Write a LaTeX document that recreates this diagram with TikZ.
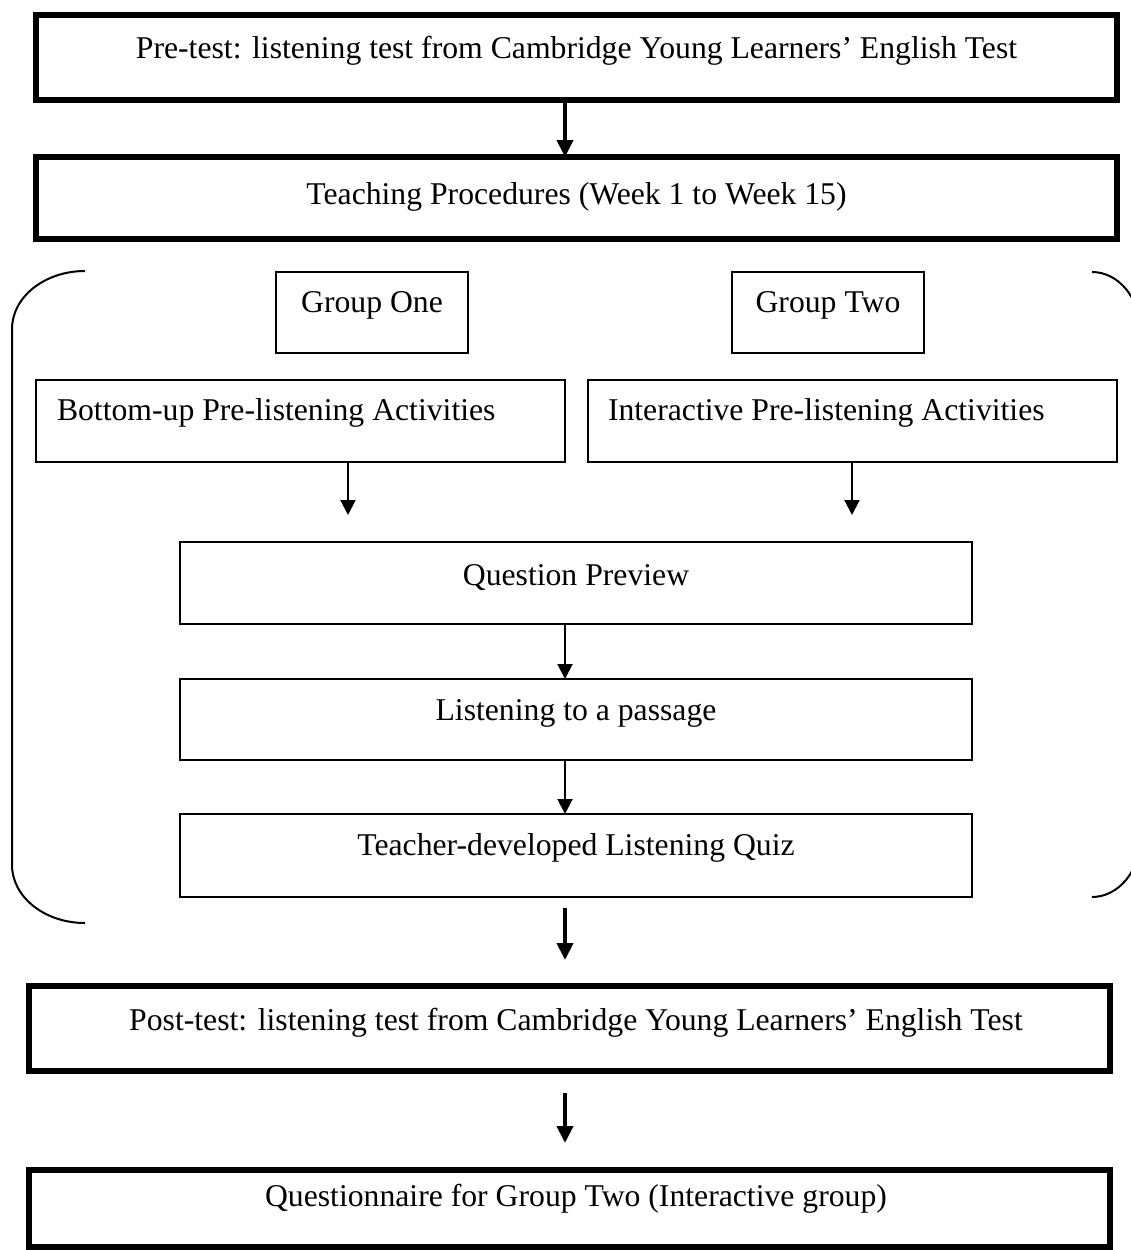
\documentclass[tikz,border=0pt]{standalone}
\usepackage{fontspec}
\setmainfont{Liberation Serif}
\usetikzlibrary{arrows.meta}
\begin{document}
\begin{tikzpicture}[x=1pt,y=-1pt,
  base/.style={draw, anchor=north west, inner sep=0pt, outer sep=0pt,
    font=\fontsize{31.7}{38}\selectfont},
  thickbox/.style={base, line width=6pt},
  thinbox/.style={base, line width=2pt},
  thinarrow/.style={line width=2pt, -{Triangle[width=15pt,length=15pt]}},
  thickarrow/.style={line width=4pt, -{Triangle[width=16pt,length=17pt]}},
  bracket/.style={line width=2pt}]
\clip (0,0) rectangle (1131,1250);
\coordinate (ax) at (565,0);
% main boxes
\node[thickbox, minimum width=1081pt, text height=43pt, text depth=42pt] (pre) at (36,15)
  {Pre-test: listening test from Cambridge Young Learners’ English Test};
\node[thickbox, minimum width=1081pt, text height=47pt, text depth=35pt] (proc) at (36,157)
  {Teaching Procedures (Week 1 to Week 15)};
% groups
\node[thinbox, minimum width=192pt, text height=40pt, text depth=41pt] (g1) at (276,272) {Group One};
\node[thinbox, minimum width=192pt, text height=40pt, text depth=41pt] (g2) at (732,272) {Group Two};
\node[thinbox, inner xsep=21pt, text width=487pt, align=flush left, text height=40pt, text depth=42pt] (bu) at (36,380)
  {Bottom-up Pre-listening Activities};
\node[thinbox, inner xsep=20pt, text width=489pt, align=flush left, text height=40pt, text depth=42pt] (ia) at (588,380)
  {Interactive Pre-listening Activities};
\node[thinbox, minimum width=792pt, text height=43pt, text depth=39pt] (qp) at (180,542) {Question Preview};
\node[thinbox, minimum width=792pt, text height=41pt, text depth=40pt] (lp) at (180,679) {Listening to a passage};
\node[thinbox, minimum width=792pt, text height=41pt, text depth=42pt] (tq) at (180,814) {Teacher-developed Listening Quiz};
% final boxes
\node[thickbox, text width=1081pt, align=flush center, text height=44pt, text depth=41pt] (post) at (29,986)
  {\hspace*{13pt}Post-test: listening test from Cambridge Young Learners’ English Test};
\node[thickbox, text width=1081pt, align=flush center, text height=36pt, text depth=41pt] (quest) at (29,1170)
  {\hspace*{13pt}Questionnaire for Group Two (Interactive group)};
% connectors
\draw[thickarrow] (pre.south -| ax) -- (proc.north -| ax);
\coordinate (bue) at (348,515);
\coordinate (iae) at (852,515);
\draw[thinarrow] (bu.south -| bue) -- (bue);
\draw[thinarrow] (ia.south -| iae) -- (iae);
\draw[thinarrow] (qp.south -| ax) -- (lp.north -| ax);
\draw[thinarrow] (lp.south -| ax) -- (tq.north -| ax);
\coordinate (a2s) at (565,908);
\coordinate (a2e) at (565,960);
\coordinate (a3s) at (565,1093);
\coordinate (a3e) at (565,1143);
\draw[thickarrow] (a2s) -- (a2e);
\draw[thickarrow] (a3s) -- (a3e);
% brackets
\draw[bracket] (85,271) .. controls (44.7,271) and (12,297) .. (12,329)
  -- (12,865) .. controls (12,897) and (44.7,923) .. (85,923);
\draw[bracket] (1092,272) .. controls (1118.5,272) and (1140,298) .. (1140,330)
  -- (1140,839) .. controls (1140,871) and (1118.5,897) .. (1092,897);
\end{tikzpicture}
\end{document}
